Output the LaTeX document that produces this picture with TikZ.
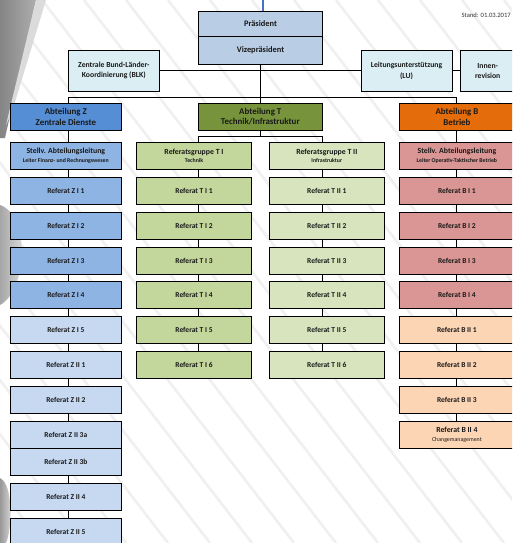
\documentclass[tikz,border=0pt]{standalone}
\usepackage{fontspec}
\setmainfont{Carlito}
\definecolor{praes}{HTML}{B9CDE5}
\definecolor{stab}{HTML}{DBEEF4}
\definecolor{abtZ}{HTML}{558ED5}
\definecolor{zI}{HTML}{8EB4E3}
\definecolor{zII}{HTML}{C6D9F1}
\definecolor{abtT}{HTML}{77933C}
\definecolor{tI}{HTML}{C3D69B}
\definecolor{tII}{HTML}{D7E4BD}
\definecolor{abtB}{HTML}{E46C0A}
\definecolor{bI}{HTML}{D99694}
\definecolor{bII}{HTML}{FCD5B5}
\definecolor{topblue}{HTML}{4472C4}
\newcommand\fref{\bfseries\fontsize{7.5}{8.6}\selectfont}
\newcommand\fsub{\bfseries\fontsize{5.8}{6.6}\selectfont}
\begin{document}
\begin{tikzpicture}[x=1pt,y=-1pt,
  box/.style={draw=black, line width=0.8pt, inner sep=0pt, align=center, text=black!90, font=\fref, minimum height=27pt},
  colZ/.style={box, minimum width=110.3pt},
  colTI/.style={box, minimum width=115.4pt, fill=tI},
  colTII/.style={box, minimum width=115pt, fill=tII},
  colB/.style={box, minimum width=115pt},
  twoline/.style={font=\bfseries\fontsize{7.8}{8.6}\selectfont},
  abt/.style={box, minimum height=26.7pt, font=\bfseries\fontsize{8.9}{10.6}\selectfont},
  stabbox/.style={box, fill=stab, minimum height=40.3pt, font=\bfseries\fontsize{7.7}{10.2}\selectfont},
  ln/.style={draw=black, line width=0.8pt},
  bgline/.style={draw=black!6, line width=2.6pt}]
\useasboundingbox (0,0) rectangle (512,543);
\fill[white] (0,0) rectangle (512,543);
\begin{scope}
\clip (0,0) rectangle (512,543);
% faint background decoration
\foreach \s in {-420,-378,...,520}
  \draw[bgline] (\s,0) -- (\s+420,543);
\shade[left color=black!48, right color=black!32] (0,0) -- (36,0) -- (5,138) -- (0,138) -- cycle;
\fill[black!14] (36,0) -- (46,0) -- (12,112) -- (6,125) -- cycle;
\shade[left color=black!35, right color=black!8] (0,205) .. controls (30,215) and (28,290) .. (0,305) -- cycle;
\shade[left color=black!40, right color=black!10] (0,478) .. controls (14,485) and (12,530) .. (6,543) -- (0,543) -- cycle;
% coordinates of column connector lines
\coordinate (xz) at (68.3,0);
\coordinate (xti) at (198.3,0);
\coordinate (xtii) at (322.3,0);
\coordinate (xb) at (456.7,0);
\coordinate (xt) at (260.7,0);

% top
\coordinate (topend) at (262.7,0);
\node[box, fill=praes, minimum width=124.4pt, minimum height=24.3pt, font=\bfseries\fontsize{8.4}{9.5}\selectfont] (praes) at (260.5,23.85) {Präsident};
\node[box, fill=praes, minimum width=124.4pt, minimum height=27.3pt, font=\bfseries\fontsize{8.4}{9.5}\selectfont, anchor=north] (vize) at (praes.south) {Vizepräsident};
\draw[topblue, line width=2.3pt] (topend) -- (praes.north -| topend);

\node[font=\fontsize{6.6}{7.6}\selectfont, text=black!80] (stand) at (486.2,15.6) {Stand: 01.03.2017};

\node[stabbox, minimum width=90.3pt] (blk) at (113.85,70.85) {Zentrale Bund-Länder-\\Koordinierung (BLK)};
\node[stabbox, minimum width=91pt] (lu) at (406.5,70.85) {Leitungsunterstützung\\(LU)};
\node[stabbox, minimum width=54pt] (innen) at (487.7,70.85) {Innen-\\revision};

% Abteilungen
\node[abt, fill=abtZ, minimum width=110.3pt] (az) at (65.85,116.65) {Abteilung Z\\Zentrale Dienste};
\node[abt, fill=abtT, minimum width=124pt] (at) at (260.3,116.65) {Abteilung T\\Technik/Infrastruktur};
\node[abt, fill=abtB, minimum width=115pt] (ab) at (456.9,116.65) {Abteilung B\\Betrieb};

% column Z
\node[colZ, fill=zI, twoline] (z0) at (65.85,155.9) {Stellv. Abteilungsleitung\\{\fsub Leiter Finanz- und Rechnungswesen}};
\node[colZ, fill=zI] (z1) at (65.85,190.75) {Referat Z I 1};
\node[colZ, fill=zI] (z2) at (65.85,225.6) {Referat Z I 2};
\node[colZ, fill=zI] (z3) at (65.85,260.45) {Referat Z I 3};
\node[colZ, fill=zI] (z4) at (65.85,295.3) {Referat Z I 4};
\node[colZ, fill=zII] (z5) at (65.85,330.15) {Referat Z I 5};
\node[colZ, fill=zII] (z6) at (65.85,365.0) {Referat Z II 1};
\node[colZ, fill=zII] (z7) at (65.85,399.85) {Referat Z II 2};
\node[colZ, fill=zII] (z8) at (65.85,434.7) {Referat Z II 3a};
\node[colZ, fill=zII] (z9) at (65.85,461.7) {Referat Z II 3b};
\node[colZ, fill=zII] (z10) at (65.85,496.7) {Referat Z II 4};
\node[colZ, fill=zII] (z11) at (65.85,531.8) {Referat Z II 5};

% column T I
\node[colTI, twoline] (ta0) at (194,155.9) {Referatsgruppe T I\\{\fsub Technik}};
\node[colTI] (ta1) at (194,190.75) {Referat T I 1};
\node[colTI] (ta2) at (194,225.6) {Referat T I 2};
\node[colTI] (ta3) at (194,260.45) {Referat T I 3};
\node[colTI] (ta4) at (194,295.3) {Referat T I 4};
\node[colTI] (ta5) at (194,330.15) {Referat T I 5};
\node[colTI] (ta6) at (194,365.0) {Referat T I 6};

% column T II
\node[colTII, twoline] (tb0) at (326.8,155.9) {Referatsgruppe T II\\{\fsub Infrastruktur}};
\node[colTII] (tb1) at (326.8,190.75) {Referat T II 1};
\node[colTII] (tb2) at (326.8,225.6) {Referat T II 2};
\node[colTII] (tb3) at (326.8,260.45) {Referat T II 3};
\node[colTII] (tb4) at (326.8,295.3) {Referat T II 4};
\node[colTII] (tb5) at (326.8,330.15) {Referat T II 5};
\node[colTII] (tb6) at (326.8,365.0) {Referat T II 6};

% column B
\node[colB, fill=bI, twoline] (b0) at (456.9,155.9) {Stellv. Abteilungsleitung\\{\fsub Leiter Operativ-Taktischer Betrieb}};
\node[colB, fill=bI] (b1) at (456.9,190.75) {Referat B I 1};
\node[colB, fill=bI] (b2) at (456.9,225.6) {Referat B I 2};
\node[colB, fill=bI] (b3) at (456.9,260.45) {Referat B I 3};
\node[colB, fill=bI] (b4) at (456.9,295.3) {Referat B I 4};
\node[colB, fill=bII] (b5) at (456.9,330.15) {Referat B II 1};
\node[colB, fill=bII] (b6) at (456.9,365.0) {Referat B II 2};
\node[colB, fill=bII] (b7) at (456.9,399.85) {Referat B II 3};
\node[colB, fill=bII, twoline] (b8) at (456.9,434.7) {Referat B II 4\\{\mdseries\fontsize{5.9}{6.6}\selectfont Changemanagement}};

% connectors top
\coordinate (hub) at (260.7,97.7);
\coordinate (tsplit) at (260.7,136.7);
\draw[ln] (vize.south -| xt) -- (at.north -| xt);
\draw[ln] (blk.east) -- (lu.west);
\draw[ln] (lu.east) -- (innen.west);
\draw[ln] (az.north -| xz) -- (hub -| xz) -- (hub -| xb) -- (ab.north -| xb);
\draw[ln] (at.south -| xt) -- (tsplit);
\draw[ln] (ta0.north -| xti) -- (tsplit -| xti) -- (tsplit -| xtii) -- (tb0.north -| xtii);
\draw[ln] (az.south -| xz) -- (z0.north -| xz);
\draw[ln] (ab.south -| xb) -- (b0.north -| xb);

% column connectors
\foreach \a/\b in {z0/z1,z1/z2,z2/z3,z3/z4,z4/z5,z5/z6,z6/z7,z7/z8,z9/z10,z10/z11}
  \draw[ln] (\a.south -| xz) -- (\b.north -| xz);
\foreach \a/\b in {ta0/ta1,ta1/ta2,ta2/ta3,ta3/ta4,ta4/ta5,ta5/ta6}
  \draw[ln] (\a.south -| xti) -- (\b.north -| xti);
\foreach \a/\b in {tb0/tb1,tb1/tb2,tb2/tb3,tb3/tb4,tb4/tb5,tb5/tb6}
  \draw[ln] (\a.south -| xtii) -- (\b.north -| xtii);
\foreach \a/\b in {b0/b1,b1/b2,b2/b3,b3/b4,b4/b5,b5/b6,b6/b7,b7/b8}
  \draw[ln] (\a.south -| xb) -- (\b.north -| xb);
\end{scope}
\end{tikzpicture}
\end{document}
